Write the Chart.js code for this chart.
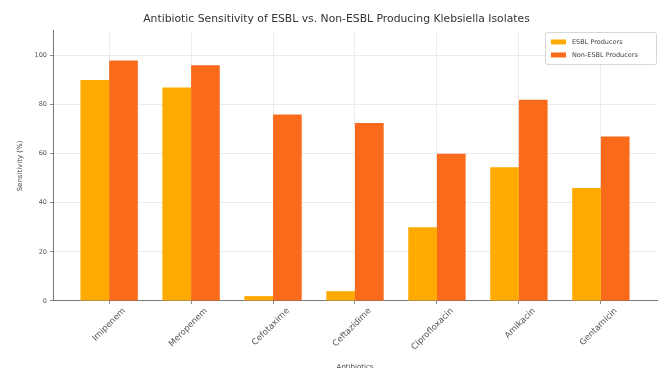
<!DOCTYPE html>
<html>
<head>
<meta charset="utf-8">
<script src="https://cdn.jsdelivr.net/npm/chart.js@4.4.1/dist/chart.umd.min.js"></script>
<style>
  html, body { margin: 0; padding: 0; background: #fff; }
  #wrap { width: 663px; height: 368px; }
</style>
</head>
<body>
<div id="wrap"><canvas id="chart"></canvas></div>
<script>
const antibiotics = ["Imipenem", "Meropenem", "Cefotaxime", "Ceftazidime", "Ciprofloxacin", "Amikacin", "Gentamicin"];
const esblSensitivity = [90, 87, 2, 4, 30, 54.5, 46];
const nonEsblSensitivity = [98, 96, 76, 72.5, 60, 82, 67];
const yTicks = [0, 20, 40, 60, 80, 100];

const FONT = "'DejaVu Sans', sans-serif";

// legend drawn inside the plot, top right, like the original
const insideLegend = {
    id: 'insideLegend',
    afterDraw(chart) {
        const {ctx, chartArea} = chart;
        const sets = chart.data.datasets;
        const w = 111, h = 32;
        const x0 = chartArea.right - w - 1, y0 = chartArea.top + 1;
        ctx.save();
        ctx.fillStyle = 'rgba(255,255,255,0.8)';
        ctx.strokeStyle = '#d6d6d6';
        ctx.lineWidth = 1;
        ctx.beginPath();
        ctx.roundRect(x0 + 0.5, y0 + 0.5, w, h, 2);
        ctx.fill();
        ctx.stroke();
        ctx.font = '6.5px ' + FONT;
        ctx.textBaseline = 'middle';
        sets.forEach((ds, i) => {
            const cy = y0 + 10 + i * 13;
            ctx.fillStyle = ds.backgroundColor;
            ctx.fillRect(x0 + 6, cy - 2.5, 15, 5);
            ctx.fillStyle = '#444';
            ctx.fillText(ds.label, x0 + 27, cy);
        });
        ctx.restore();
    }
};

const ctx = document.getElementById('chart');

new Chart(ctx, {
    type: 'bar',
    data: {
        datasets: [{
            label: 'ESBL Producers',
            data: esblSensitivity.map((v, i) => ({x: i, y: v})),
            backgroundColor: '#FFAA00'
        }, {
            label: 'Non-ESBL Producers',
            data: nonEsblSensitivity.map((v, i) => ({x: i, y: v})),
            backgroundColor: '#F96A1B'
        }]
    },
    plugins: [insideLegend],
    options: {
        responsive: true,
        maintainAspectRatio: false,
        animation: false,
        categoryPercentage: 0.7,
        barPercentage: 1.0,
        layout: {padding: {left: 16, right: 6, top: 0, bottom: 0}},
        plugins: {
            legend: {display: false},
            tooltip: {enabled: false},
            title: {
                display: true,
                text: 'Antibiotic Sensitivity of ESBL vs. Non-ESBL Producing Klebsiella Isolates',
                color: '#333',
                font: {family: FONT, size: 10.8, weight: 'normal'},
                padding: {top: 13, bottom: 5}
            }
        },
        scales: {
            x: {
                type: 'linear',
                offset: false,
                min: -0.685,
                max: antibiotics.length - 1 + 0.685,
                afterBuildTicks: (scale) => {
                    scale.ticks = antibiotics.map((_, i) => ({value: i}));
                },
                afterFit: (scale) => { scale.height = 67; },
                ticks: {
                    autoSkip: false,
                    maxRotation: 45,
                    minRotation: 45,
                    labelOffset: 15,
                    padding: 2,
                    color: '#555',
                    font: {family: FONT, size: 8.5},
                    callback: (v) => antibiotics[v]
                },
                grid: {offset: false, color: '#ebebeb', tickColor: '#888', tickLength: 3},
                border: {color: '#777', width: 1},
                title: {
                    display: true,
                    text: 'Antibiotics',
                    color: '#444',
                    font: {family: FONT, size: 7},
                    padding: {top: 0, bottom: -3}
                }
            },
            y: {
                min: 0,
                max: 110,
                afterBuildTicks: (scale) => {
                    scale.ticks = yTicks.map(v => ({value: v}));
                },
                afterFit: (scale) => { scale.width = 37; },
                ticks: {
                    color: '#555',
                    padding: 3,
                    font: {family: FONT, size: 6.5}
                },
                grid: {color: '#ebebeb', tickColor: '#888', tickLength: 3},
                border: {color: '#777', width: 1},
                title: {
                    display: true,
                    text: 'Sensitivity (%)',
                    color: '#444',
                    font: {family: FONT, size: 7},
                    padding: {top: 0, bottom: 0}
                }
            }
        }
    }
});
</script>
</body>
</html>
